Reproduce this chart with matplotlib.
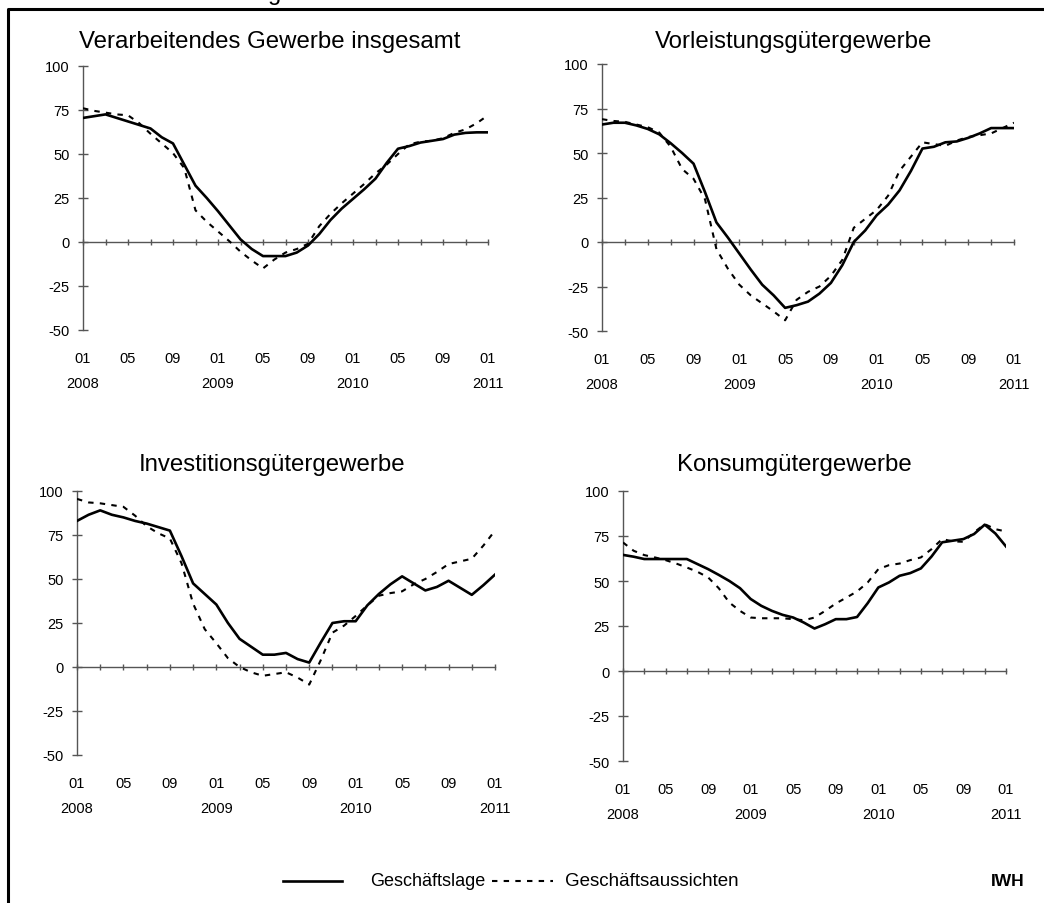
import matplotlib
matplotlib.use("Agg")
import matplotlib.pyplot as plt
from matplotlib.lines import Line2D
import numpy as np

plt.rcParams['font.family'] = ['Liberation Sans', 'DejaVu Sans']
plt.rcParams['axes.unicode_minus'] = False

months = ['2008-01', '2008-02', '2008-03', '2008-04', '2008-05', '2008-06', '2008-07', '2008-08',
          '2008-09', '2008-10', '2008-11', '2008-12', '2009-01', '2009-02', '2009-03', '2009-04',
          '2009-05', '2009-06', '2009-07', '2009-08', '2009-09', '2009-10', '2009-11', '2009-12',
          '2010-01', '2010-02', '2010-03', '2010-04', '2010-05', '2010-06', '2010-07', '2010-08',
          '2010-09', '2010-10', '2010-11', '2010-12', '2011-01']

titles = ['Verarbeitendes Gewerbe insgesamt', 'Vorleistungsgütergewerbe',
          'Investitionsgütergewerbe', 'Konsumgütergewerbe']

p1_lage = [70.5, 71.5, 72.5, 70.5, 68.5, 66.5, 64.5, 59.5, 56, 44, 32, 25, 17.5, 9.5, 1.5, -4, -8, -8,
           -8, -6, -2, 4.5, 12.5, 19, 24.5, 30, 36, 45, 53, 54.5, 56.5, 57.5, 58.5, 61, 62, 62.3, 62.3]
p1_auss = [76, 74.5, 73.5, 72.5, 72, 67.5, 61.5, 56, 50.5, 42, 18, 11.5, 6, 0.5, -5.5, -10.5, -15, -10,
           -6, -4, -1, 9, 16, 22, 27.5, 33, 39, 44, 50, 55.5, 57, 57.5, 59, 62, 64, 67.5, 72]

p2_lage = [66, 67, 67, 65.5, 63.5, 60.5, 55.5, 50, 44, 28, 11, 2.5, -6.5, -15.5, -24, -30, -37, -35.5,
           -33.5, -29, -23, -13, 0, 6.5, 15, 21, 29, 40, 52.5, 53.5, 56, 56.5, 58.5, 61, 64, 64, 64]
p2_auss = [69, 68, 67.5, 66, 64.5, 61.5, 53.5, 41, 35.5, 24, -4, -15, -24, -30, -34.5, -39, -44, -32.5,
           -28, -25, -19, -10, 8, 13, 18, 26, 40, 48, 56, 55, 54, 57, 59, 60, 61, 64, 67]

p3_lage = [83, 86.5, 89, 86.5, 85, 83, 81.5, 79.5, 77.5, 63, 47.5, 41.5, 35.5, 25, 16, 11.5, 7, 7,
           8, 4.5, 2.5, 14, 25, 26, 26, 35, 41.5, 47, 51.5, 47.5, 43.5, 45.5, 49, 45, 41, 46.5, 52.5]
p3_auss = [95.5, 93.5, 93, 92, 91, 86, 80, 76, 73, 59, 36, 21.5, 13.5, 5, 0, -3, -5, -4,
           -3, -6, -10, 4, 19.5, 23.5, 29, 35, 40.5, 42, 43, 47, 50, 54, 58.5, 60, 61.5, 69, 77.5]

p4_lage = [64.5, 63.5, 62.2, 62.2, 62.2, 62.2, 62.2, 59.4, 56.6, 53.4, 50, 46, 40, 36.2, 33.4, 31.2,
           29.7, 26.9, 23.6, 26, 28.8, 28.8, 30, 37.7, 46.4, 49.2, 52.9, 54.4, 57, 63.6, 71.5, 72.4,
           73.3, 76.1, 81.3, 76.4, 69.2]
p4_auss = [71.4, 66.8, 64.4, 63.1, 61.6, 59.7, 57.5, 55.1, 52, 46, 38, 33.4, 29.7, 29.3, 29.3, 29.3,
           28.8, 28.2, 29.7, 33.4, 37.5, 40.8, 44.2, 49.2, 56.6, 58.8, 59.7, 61.6, 63.1, 67.7, 73.3, 72,
           71.8, 77, 81.6, 78.8, 77.5]

series = [(p1_lage, p1_auss), (p2_lage, p2_auss), (p3_lage, p3_auss), (p4_lage, p4_auss)]
yticks = [-50, -25, 0, 25, 50, 75, 100]
legend_labels = ['Geschäftslage', 'Geschäftsaussichten']

W, H = 1044, 904
fig = plt.figure(figsize=(W / 100, H / 100), dpi=100)

# axes boxes in pixels: left, right, top(y=100), bottom(y=-50)
boxes = [(83, 488, 67, 331), (602, 1014, 65, 332), (77, 495, 492, 756), (623, 1006, 492, 762)]
title_xy = [(270, 42), (794, 42), (272, 465), (794, 465)]

axis_col = '#555555'
x = np.arange(len(months))
tick_pos = x[::2]
lab_pos = x[::4]
lab_txt = []
for i in lab_pos:
    yy, mm = months[i].split('-')
    lab_txt.append(mm + '\n' + yy if mm == '01' else mm)

solid_kw = dict(color='black', lw=1.9)
dash_kw = dict(color='black', lw=1.5, dashes=(2.6, 3.0))

for k, (l, r, t, b) in enumerate(boxes):
    ax = fig.add_axes([l / W, 1 - b / H, (r - l) / W, (b - t) / H])
    lage, auss = series[k]
    ax.plot(x, lage, zorder=4, **solid_kw)
    ax.plot(x, auss, zorder=3, **dash_kw)
    ax.set_xlim(0, x[-1])
    ax.set_ylim(-50, 100)
    for s in ['top', 'right']:
        ax.spines[s].set_visible(False)
    ax.spines['bottom'].set_position(('data', 0))
    for s in ['bottom', 'left']:
        ax.spines[s].set_color(axis_col)
        ax.spines[s].set_linewidth(1.0)
    ax.set_yticks(yticks)
    ax.tick_params(axis='y', direction='inout', length=7, width=1.0, color=axis_col,
                   labelsize=10.5, pad=6, labelcolor='black')
    ax.set_xticks(tick_pos)
    ax.tick_params(axis='x', direction='inout', length=5, width=1.0, color=axis_col,
                   labelbottom=False)
    sec = ax.secondary_xaxis(0)
    sec.set_xticks(lab_pos, lab_txt)
    sec.tick_params(length=0, pad=15, labelsize=10.5)
    sec.spines['bottom'].set_visible(False)
    for tl in sec.get_xticklabels():
        tl.set_linespacing(2.0)
    ax.set_facecolor('none')
    tx, ty = title_xy[k]
    fig.text(tx / W, 1 - ty / H, titles[k], ha='center', va='center', fontsize=17.3)

# frame
fig.add_artist(Line2D([8 / W, 8 / W, 1], [0, 1 - 9.5 / H, 1 - 9.5 / H], transform=fig.transFigure,
                      color='black', lw=2.2, solid_capstyle='projecting'))

# legend (drawn in figure coordinates)
ly = 1 - 882 / H
fig.add_artist(Line2D([283 / W, 342 / W], [ly, ly], transform=fig.transFigure, **solid_kw))
fig.text(370 / W, ly, legend_labels[0], ha='left', va='center', fontsize=13)
fig.add_artist(Line2D([492 / W, 553 / W], [ly, ly], transform=fig.transFigure, **dash_kw))
fig.text(565 / W, ly, legend_labels[1], ha='left', va='center', fontsize=13.5)
fig.text(1025 / W, ly, 'IWH', ha='right', va='center', fontsize=12.5, fontweight='bold')
# cut-off heading above the frame
fig.text(275 / W, 1.0, 'g', ha='center', va='baseline', fontsize=17)

fig.savefig('out.png', dpi=100, facecolor='white')
